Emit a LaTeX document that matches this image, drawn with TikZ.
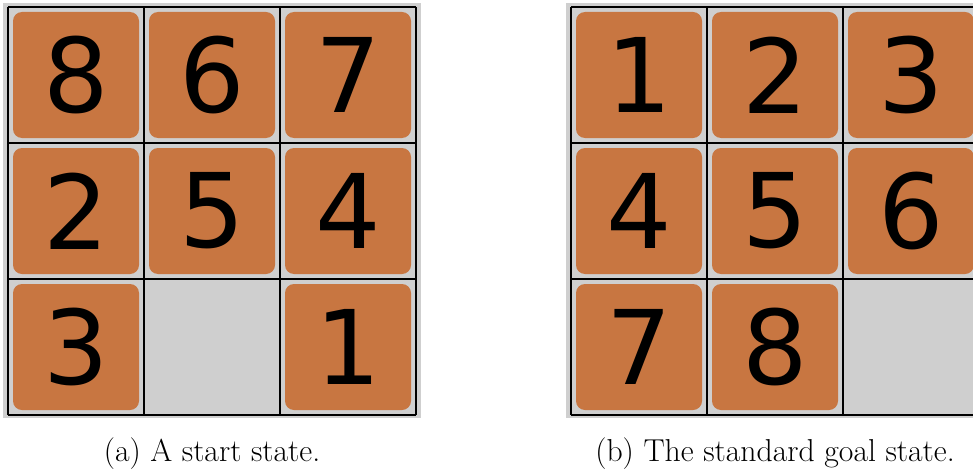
\documentclass[tikz,border=0pt]{standalone}
\usepackage{fontspec}
\newfontfamily\tilefont{DejaVu Sans}
\definecolor{tileorange}{HTML}{C87641}
\definecolor{boardgrey}{HTML}{CFCFCF}
\begin{document}
\begin{tikzpicture}[x=1pt,y=-1pt,
  boardbg/.style={fill=boardgrey},
  gridline/.style={draw=black,line width=1.1pt},
  tile/.style={fill=tileorange,rounded corners=9pt,minimum width=126pt,
    minimum height=126pt,inner sep=0pt,
    font=\tilefont\fontsize{103}{103}\selectfont},
  caption/.style={font=\fontsize{31.7}{37}\selectfont,anchor=base,inner sep=0pt}]
\useasboundingbox (0,0) rectangle (973,468);

% boards: left edge of each grid is x0; cells are 136 wide
\foreach \x in {8,571}{
  \fill[boardgrey] (\x-5,3) rectangle (\x+413,418);
}

% start state
\foreach \d/\c/\r in {8/0/0,6/1/0,7/2/0,2/0/1,5/1/1,4/2/1,3/0/2,1/2/2}{
  \node[tile] (start\d) at ({76+136*\c},{75+136*\r}) {\d};
}
% goal state
\foreach \d/\c/\r in {1/0/0,2/1/0,3/2/0,4/0/1,5/1/1,6/2/1,7/0/2,8/1/2}{
  \node[tile] (goal\d) at ({639+136*\c},{75+136*\r}) {\d};
}

% grid lines
\foreach \x in {8,571}{
  \foreach \i in {0,1,2,3}{
    \draw[gridline] ({\x+136*\i},7) -- ({\x+136*\i},415);
    \draw[gridline] (\x,{7+136*\i}) -- (\x+408,{7+136*\i});
  }
}

\node[caption] (capa) at (212,461) {(a) A start state.};
\node[caption] (capb) at (775,461) {(b) The standard goal state.};
\end{tikzpicture}
\end{document}
